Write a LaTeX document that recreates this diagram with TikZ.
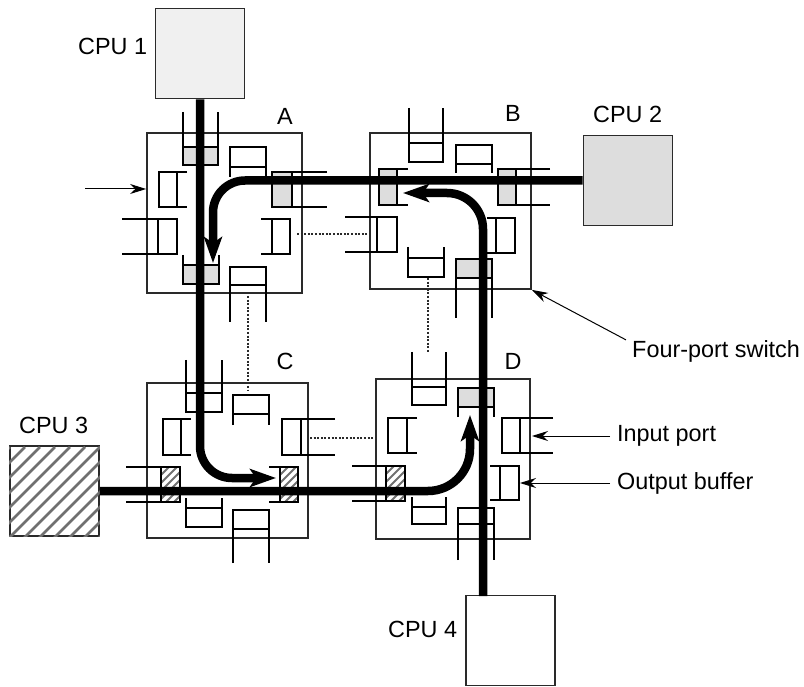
\documentclass[tikz,border=0pt]{standalone}
\usepackage{fontspec}
\setmainfont{Liberation Sans}
\usepackage{xcolor}
\usetikzlibrary{arrows.meta}
\definecolor{swInk}{HTML}{2A2A2A}
\definecolor{swGrey}{HTML}{DDDDDD}
\definecolor{swHatch}{HTML}{707070}
\tikzset{
  switchbox/.style={draw=swInk,line width=1.8pt,inner sep=0pt,minimum width=#1},
  cpubox/.style={draw=swInk,line width=1.8pt,inner sep=0pt,minimum width=89pt,minimum height=90pt},
  bus/.style={line width=8.5pt,black,rounded corners=#1,-{Stealth[length=26pt,width=18pt,inset=6pt]}},
  wire/.style={line width=1.5pt,dash pattern=on 2pt off 1.6pt,swInk},
  pointer/.style={line width=1pt,black,-{Stealth[length=16pt,width=10pt]}},
  portline/.style={line width=1.6pt,black},
  portplain/.style={},
  portgrey/.style={fill=swGrey},
  lbl/.style={inner sep=0pt,anchor=west}
}
\begin{document}
\begin{tikzpicture}[x=1pt,y=-1pt,font=\fontsize{23.4}{27}\selectfont]
\useasboundingbox (0,0) rectangle (804,687);
\node[switchbox=155pt,minimum height=160pt] (swA) at (224.5,213) {};
\node[switchbox=161pt,minimum height=156pt] (swB) at (450.5,211) {};
\node[switchbox=161pt,minimum height=155pt] (swC) at (227.5,460.5) {};
\node[switchbox=154pt,minimum height=160pt] (swD) at (453,459) {};
\node[cpubox,fill=gray!12] (cpuA) at (200,53.5) {};
\node[cpubox,fill=swGrey] (cpuB) at (628,180.5) {};
\node[cpubox] (cpuC) at (54.5,491) {};
\node[cpubox] (cpuD) at (510.5,640.5) {};
\begin{scope}
  \clip (cpuC.south west) rectangle (cpuC.north east);
  \foreach \d in {0,15,...,180} \draw[swHatch,line width=2.6pt] (10+\d,447) -- ++(-92,92);
\end{scope}
\foreach \xa/\xb/\ya/\yb in {161/180/467/502,280/298/467/502,386/405/466/501} {
  \begin{scope}
    \clip (\xa,\ya) rectangle (\xb,\yb);
    \foreach \d in {0,8,...,56} \draw[swHatch,line width=1.8pt] (\xa+\d,\ya) -- ++(-40,40);
  \end{scope}
}
\foreach \pa/\pb/\op/\br/\cl/\k in {
  183/218/112/147/165/portgrey, 230/266/177/167/147/portplain,
  183/219/255/265/284/portgrey, 230/266/322/285/267/portplain,
  409/443/108/143/162/portplain, 456/492/173/164/145/portplain,
  408/444/247/258/277/portplain, 456/492/318/278/259/portgrey,
  186/222/360/393/412/portplain, 233/269/425/414/395/portplain,
  186/222/498/508/527/portplain, 233/269/563/529/510/portplain,
  412/446/352/387/405/portplain, 458/494/417/407/388/portgrey,
  412/446/497/507/524/portplain, 458/494/560/524/508/portplain} {
  \path[\k] (\pa,\br) rectangle (\pb,\cl);
  \draw[portline] (\pa,\op) -- (\pa,\cl) -- (\pb,\cl) -- (\pb,\op) (\pa,\br) -- (\pb,\br);
}
\foreach \pa/\pb/\op/\br/\cl/\k in {
  172/207/187/177/159/portplain, 219/254/122/158/177/portplain,
  172/207/327/292/272/portgrey, 219/254/261/272/290/portplain,
  169/205/408/397/379/portgrey, 169/205/550/516/498/portgrey,
  217/252/345/377/397/portplain, 218/253/487/496/515/portplain,
  419/455/191/181/163/portplain, 467/502/126/161/180/portplain,
  419/455/335/301/282/portplain, 467/502/269/280/298/portplain,
  418/453/417/407/388/portplain, 466/501/352/386/405/portplain,
  418/453/553/520/502/portplain, 466/500/490/500/519/portplain} {
  \path[\k] (\br,\pa) rectangle (\cl,\pb);
  \draw[portline] (\op,\pa) -- (\cl,\pa) -- (\cl,\pb) -- (\op,\pb) (\br,\pa) -- (\br,\pb);
}
\coordinate (tipA) at (213,263);
\coordinate (tipB) at (403,193);
\coordinate (tipC) at (276,478);
\coordinate (tipD) at (470,415);
\coordinate (outD) at (483,596);
\draw[bus=32pt] (cpuA.south) |- (tipC);
\draw[bus=32pt] (cpuB.west) -| (tipA);
\draw[bus=42pt] (cpuC.east) -| (tipD);
\draw[bus=36pt] (outD) |- (tipB);
\coordinate (wireAr) at (297,234);
\coordinate (wireBl) at (367,234);
\coordinate (wireCr) at (310,438);
\coordinate (wireDl) at (373,438);
\coordinate (wireAb) at (248,296);
\coordinate (wireCt) at (248,390);
\coordinate (wireBb) at (428,278);
\coordinate (wireDt) at (428,353);
\draw[wire] (wireAr) -- (wireBl);
\draw[wire] (wireCr) -- (wireDl);
\draw[wire] (wireAb) -- (wireCt);
\draw[wire] (wireBb) -- (wireDt);
\node[lbl] (lblCpuA) at (78,46) {CPU 1};
\node[lbl] (lblCpuB) at (593,114) {CPU 2};
\node[lbl] (lblCpuC) at (19,425) {CPU 3};
\node[lbl] (lblCpuD) at (388,629) {CPU 4};
\node (lblA) at (285,116) {A};
\node (lblB) at (513,113) {B};
\node (lblC) at (285,361) {C};
\node (lblD) at (513,361) {D};
\node[lbl] (lblFour) at (632,351) {Four-port switch};
\node[lbl] (lblIn) at (617,436) {Input port};
\node[lbl] (lblOut) at (617,483) {Output buffer};
\coordinate (feedA) at (85,189);
\coordinate (tipIn) at (532,436);
\coordinate (tipOut) at (520,483);
\draw[pointer] (feedA) -- (swA.west |- feedA);
\draw[pointer] (lblFour.north west) ++(-6,0) -- (swB.south east);
\draw[pointer] (lblIn.west) ++(-7,0) -- (tipIn);
\draw[pointer] (lblOut.west) ++(-7,0) -- (tipOut);
\end{tikzpicture}
\end{document}
